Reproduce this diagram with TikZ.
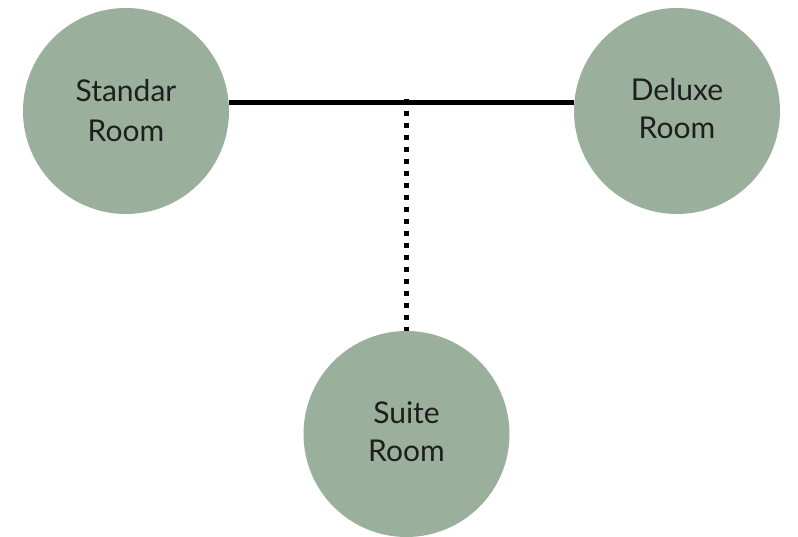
\documentclass[tikz,border=0pt]{standalone}
\usepackage{fontspec}
\setmainfont{Lato}
\definecolor{roomfill}{HTML}{9AB09C}
\definecolor{roomtext}{HTML}{1E1E1E}
\tikzset{
  room/.style={circle, fill=roomfill, minimum size=206pt, inner sep=0pt,
    align=center, text=roomtext, font=\fontsize{30}{38}\selectfont},
  solidlink/.style={line width=5pt, black},
  dotlink/.style={line width=5pt, black, dash pattern=on 5pt off 7pt}
}
\begin{document}
\begin{tikzpicture}[x=1pt,y=-1pt]
\useasboundingbox (0,0) rectangle (798,537);
\node[room] (s) at (126,111) {\raisebox{2pt}{Standar}\\Room};
\node[room] (d) at (677,111) {\raisebox{6pt}{Deluxe}\\\raisebox{6pt}{Room}};
\node[room] (u) at (406.5,434) {\raisebox{5pt}{Suite}\\\raisebox{5pt}{Room}};
\coordinate (j) at (406.5,103);
\draw[solidlink] (j -| s.east) -- (j -| d.west);
\draw[dotlink] ([yshift=4pt]j) -- (u.north);
\end{tikzpicture}
\end{document}
